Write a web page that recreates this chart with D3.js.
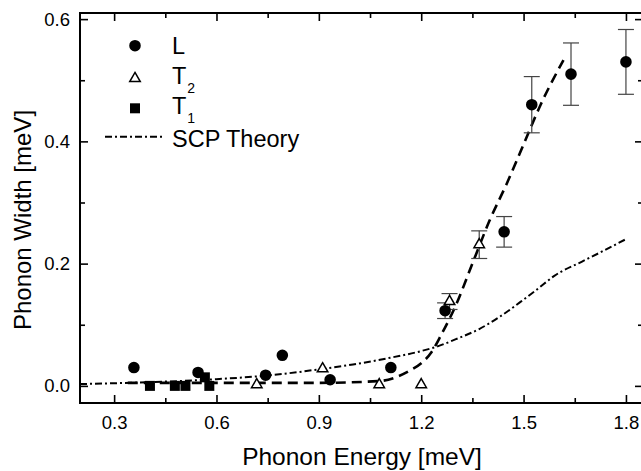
<!DOCTYPE html>
<html>
<head>
<meta charset="utf-8">
<script src="https://cdn.jsdelivr.net/npm/d3@7"></script>
<style>
  body { margin: 0; background: #fff; }
  svg { font-family: "Liberation Sans", Arial, sans-serif; }
  .tick line { stroke: #000; stroke-width: 1.6; }
  .tick text { font-size: 18.5px; fill: #000; }
</style>
</head>
<body>
<div id="chart"></div>
<script>
// L (longitudinal) points
let energyL = [0.358, 0.546, 0.744, 0.793, 0.933, 1.111, 1.27, 1.443, 1.524, 1.639, 1.8];
let widthL = [0.03, 0.022, 0.0175, 0.05, 0.01, 0.03, 0.123, 0.252, 0.46, 0.51, 0.53];
let errL = [0, 0, 0, 0, 0, 0, 0.0128, 0.025, 0.046, 0.051, 0.053];

// T2 points
let energyT2 = [0.718, 0.911, 1.077, 1.2, 1.283, 1.37];
let widthT2 = [0.002, 0.028, 0.002, 0.002, 0.138, 0.231];
let errT2 = [0, 0, 0, 0, 0.013, 0.0226];

// T1 points
let energyT1 = [0.405, 0.478, 0.509, 0.566, 0.579];
let widthT1 = [0.0, 0.0, 0.0, 0.014, 0.0];

// dashed guide line
let fitX = [0.34, 0.6, 0.9, 1.08, 1.13, 1.17, 1.2, 1.23, 1.26, 1.3, 1.35, 1.4, 1.45, 1.5, 1.55, 1.617];
let fitY = [0.005, 0.005, 0.005, 0.008, 0.015, 0.026, 0.037, 0.055, 0.085, 0.13, 0.2, 0.27, 0.33, 0.395, 0.46, 0.533];

// SCP theory (dash-dot)
let scpX = [0.2, 0.4, 0.6, 0.75, 0.9, 1.0, 1.1, 1.2, 1.25, 1.3, 1.37, 1.43, 1.49, 1.54, 1.59, 1.67, 1.72, 1.8];
let scpY = [0.003, 0.006, 0.011, 0.017, 0.027, 0.035, 0.045, 0.057, 0.065, 0.076, 0.093, 0.113, 0.137, 0.158, 0.18, 0.203, 0.217, 0.24];

let xTicks = [0.3, 0.6, 0.9, 1.2, 1.5, 1.8];
let xMinor = [0.45, 0.75, 1.05, 1.35, 1.65];
let yTicks = [0.0, 0.2, 0.4, 0.6];
let yMinor = [0.1, 0.3, 0.5];

let margin = { top: 13, right: -2, bottom: 68, left: 80 },
  width = 641 - margin.left - margin.right,
  height = 471 - margin.top - margin.bottom;

let svg = d3
  .select("#chart")
  .append("svg")
  .attr("width", 641)
  .attr("height", 471);

let canvas = svg
  .append("g")
  .attr("transform", "translate(" + margin.left + "," + margin.top + ")");

let xScale = d3.scaleLinear().domain([0.2, 1.85]).range([0, width]);
let yScale = d3.scaleLinear().domain([-0.028, 0.61]).range([height, 0]);

// axes with inward ticks
function addAxis(axis, tx, ty) {
  let g = canvas
    .append("g")
    .attr("transform", "translate(" + tx + "," + ty + ")")
    .call(axis);
  g.select(".domain").remove();
  return g;
}

addAxis(d3.axisBottom(xScale).tickValues(xTicks).tickSize(-8).tickPadding(13).tickFormat(d3.format(".1f")), 0, height);
addAxis(d3.axisBottom(xScale).tickValues(xMinor).tickSize(-5).tickFormat(""), 0, height);
addAxis(d3.axisTop(xScale).tickValues(xTicks).tickSize(-8).tickFormat(""), 0, 0);
addAxis(d3.axisTop(xScale).tickValues(xMinor).tickSize(-5).tickFormat(""), 0, 0);
addAxis(d3.axisLeft(yScale).tickValues(yTicks).tickSize(-8).tickPadding(10).tickFormat(d3.format(".1f")), 0, 0);
addAxis(d3.axisLeft(yScale).tickValues(yMinor).tickSize(-5).tickFormat(""), 0, 0);
addAxis(d3.axisRight(yScale).tickValues(yTicks).tickSize(-8).tickFormat(""), width, 0);
addAxis(d3.axisRight(yScale).tickValues(yMinor).tickSize(-5).tickFormat(""), width, 0);

canvas
  .append("rect")
  .attr("width", width)
  .attr("height", height)
  .attr("fill", "none")
  .attr("stroke", "#000")
  .attr("stroke-width", 2);

// lines
let line = d3
  .line()
  .x((d) => xScale(d[0]))
  .y((d) => yScale(d[1]))
  .curve(d3.curveMonotoneX);

canvas
  .append("path")
  .datum(scpX.map((x, i) => [x, scpY[i]]))
  .attr("d", line)
  .attr("fill", "none")
  .attr("stroke", "#000")
  .attr("stroke-width", 2)
  .attr("stroke-dasharray", "7,3,2,3");

canvas
  .append("path")
  .datum(fitX.map((x, i) => [x, fitY[i]]))
  .attr("d", line)
  .attr("fill", "none")
  .attr("stroke", "#000")
  .attr("stroke-width", 2.6)
  .attr("stroke-dasharray", "10,6");

// error bars
function errorBars(xs, ys, es) {
  let g = canvas.append("g").attr("stroke", "#444").attr("stroke-width", 1.2);
  xs.forEach((x, i) => {
    if (!es[i]) return;
    let px = xScale(x),
      y0 = yScale(ys[i] - es[i]),
      y1 = yScale(ys[i] + es[i]);
    g.append("line").attr("x1", px).attr("x2", px).attr("y1", y0).attr("y2", y1);
    g.append("line").attr("x1", px - 8).attr("x2", px + 8).attr("y1", y0).attr("y2", y0);
    g.append("line").attr("x1", px - 8).attr("x2", px + 8).attr("y1", y1).attr("y2", y1);
  });
}
errorBars(energyL, widthL, errL);
errorBars(energyT2, widthT2, errT2);

// markers
let circleSym = d3.symbol().type(d3.symbolCircle).size(105);
let triSym = d3.symbol().type(d3.symbolTriangle).size(48);
let sqSym = d3.symbol().type(d3.symbolSquare).size(100);

canvas
  .selectAll(".pt-t1")
  .data(energyT1)
  .join("path")
  .attr("class", "pt-t1")
  .attr("d", sqSym)
  .attr("transform", (d, i) => "translate(" + xScale(d) + "," + yScale(widthT1[i]) + ")")
  .attr("fill", "#000");

canvas
  .selectAll(".pt-t2")
  .data(energyT2)
  .join("path")
  .attr("class", "pt-t2")
  .attr("d", triSym)
  .attr("transform", (d, i) => "translate(" + xScale(d) + "," + yScale(widthT2[i]) + ")")
  .attr("fill", "#fff")
  .attr("stroke", "#000")
  .attr("stroke-width", 1.5);

canvas
  .selectAll(".pt-l")
  .data(energyL)
  .join("path")
  .attr("class", "pt-l")
  .attr("d", circleSym)
  .attr("transform", (d, i) => "translate(" + xScale(d) + "," + yScale(widthL[i]) + ")")
  .attr("fill", "#000");

// legend
let legend = svg.append("g").style("font-size", "23.5px");

legend.append("path").attr("d", circleSym).attr("transform", "translate(135,45.7)");
legend.append("text").attr("x", 172).attr("y", 53.5).text("L");

legend
  .append("path")
  .attr("d", triSym)
  .attr("transform", "translate(135,78.5)")
  .attr("fill", "#fff")
  .attr("stroke", "#000")
  .attr("stroke-width", 1.5);
let t2 = legend.append("text").attr("x", 172).attr("y", 83.5);
t2.append("tspan").text("T");
t2.append("tspan").attr("dy", 9).attr("dx", 1).style("font-size", "14px").text("2");

legend.append("path").attr("d", sqSym).attr("transform", "translate(135,108.3)");
let t1 = legend.append("text").attr("x", 172).attr("y", 113.5);
t1.append("tspan").text("T");
t1.append("tspan").attr("dy", 9).attr("dx", 1).style("font-size", "14px").text("1");

legend
  .append("line")
  .attr("x1", 105)
  .attr("x2", 165)
  .attr("y1", 136.7)
  .attr("y2", 136.7)
  .attr("stroke", "#000")
  .attr("stroke-width", 2)
  .attr("stroke-dasharray", "7,3,2,3");
legend.append("text").attr("x", 172).attr("y", 146.5).text("SCP Theory");

// axis titles
svg
  .append("text")
  .attr("x", 362)
  .attr("y", 465)
  .attr("text-anchor", "middle")
  .style("font-size", "24.5px")
  .text("Phonon Energy [meV]");

svg
  .append("text")
  .attr("transform", "translate(31,220) rotate(-90)")
  .attr("text-anchor", "middle")
  .style("font-size", "24px")
  .text("Phonon Width [meV]");
</script>
</body>
</html>
